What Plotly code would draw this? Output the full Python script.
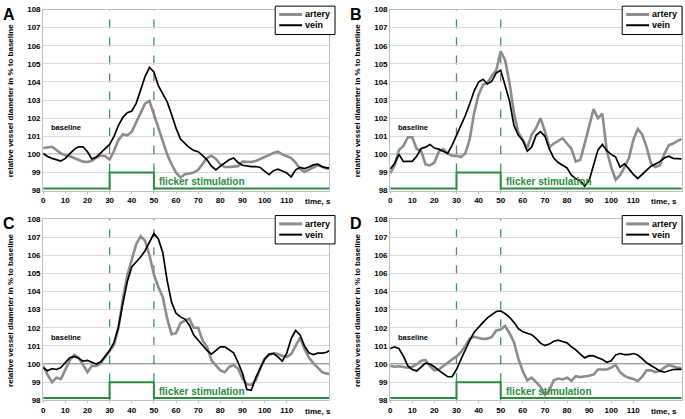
import plotly.graph_objects as go
from plotly.subplots import make_subplots

# sample times (s)
time_ac = list(range(0, 131, 2))
time_bd = list(range(0, 133, 2))

# panel A
artery_a = [100.35, 100.4, 100.42, 100.24, 100.05, 99.95, 99.9, 99.8, 99.7, 99.6,
            99.58, 99.65, 99.82, 99.94, 99.9, 99.72, 100.2, 100.8, 101.1, 101.05,
            101.25, 101.8, 102.35, 102.8, 102.95, 102.2, 101.4, 100.7, 100.0, 99.45,
            99.0, 98.72, 98.9, 98.95, 99.0, 99.15, 99.5, 99.8, 99.93, 99.75,
            99.45, 99.3, 99.3, 99.32, 99.35, 99.6, 99.6, 99.58, 99.64, 99.75,
            99.85, 99.98, 100.08, 100.15, 100.0, 99.9, 99.8, 99.55, 99.2, 99.03,
            99.15, 99.3, 99.4, 99.32, 99.22, 99.2]
vein_a = [100.05, 99.88, 99.78, 99.7, 99.63, 99.78, 100.05, 100.28, 100.42, 100.42,
          100.15, 99.75, 99.85, 100.1, 100.3, 100.55, 101.0, 101.6, 102.05, 102.3,
          102.4, 102.82, 103.55, 104.3, 104.8, 104.55, 103.8, 103.35, 102.9, 102.2,
          101.45, 100.85, 100.62, 100.38, 100.22, 100.15, 99.93, 99.7, 99.35, 99.15,
          99.35, 99.52, 99.7, 99.8, 99.55, 99.4, 99.35, 99.33, 99.33, 99.28,
          99.08, 98.88, 99.1, 99.18, 99.08, 98.98, 98.75, 99.15, 99.28, 99.22,
          99.3, 99.42, 99.46, 99.32, 99.26, 99.25]

# panel B
artery_b = [98.95, 99.4, 100.25, 100.47, 100.95, 100.95, 100.3, 100.2, 99.45, 99.39,
            99.55, 100.15, 100.29, 100.05, 99.93, 99.92, 99.85, 100.05, 100.85, 102.3,
            103.3, 103.85, 103.95, 104.35, 104.65, 105.7, 105.2, 103.95, 102.3, 101.2,
            100.8, 100.35, 101.1, 101.45, 102.0, 101.28, 100.4, 100.6, 100.74, 100.9,
            100.6, 100.3, 99.6, 99.7, 100.6, 101.5, 102.5, 102.0, 102.25, 100.2,
            99.3, 98.6, 98.85, 99.3, 99.8, 100.8, 101.4, 101.1, 100.4, 99.5,
            99.3, 99.4, 100.02, 100.5, 100.6, 100.75, 100.85]
vein_b = [99.2, 99.5, 100.0, 99.6, 99.62, 99.62, 99.9, 100.33, 100.4, 100.55,
          100.35, 100.29, 100.17, 100.05, 100.5, 101.05, 101.55, 102.15, 102.8, 103.5,
          104.0, 104.15, 103.89, 104.05, 104.5, 104.65, 103.8, 102.95, 101.6, 101.05,
          100.77, 100.18, 100.4, 101.05, 101.25, 101.0, 100.3, 99.8, 99.55, 99.42,
          99.25, 98.85, 98.65, 98.55, 98.25, 98.55, 99.4, 100.25, 100.55, 100.2,
          100.0, 99.85, 99.3, 99.48, 99.2, 98.9, 98.67, 98.9, 99.15, 99.35,
          99.47, 99.6, 99.8, 99.9, 99.78, 99.75, 99.75]

# panel C
artery_c = [99.9, 99.4, 99.0, 99.25, 99.17, 99.65, 100.2, 100.5, 100.35, 99.95,
            99.55, 99.9, 99.89, 100.05, 100.4, 100.7, 101.05, 102.0, 103.6, 104.9,
            105.7, 106.6, 107.05, 106.8, 106.0, 104.95, 104.25, 103.7, 102.5, 101.65,
            101.7, 102.25, 102.4, 102.5, 102.0, 102.0, 101.3, 100.95, 100.2, 99.9,
            99.65, 99.55, 99.85, 99.93, 99.75, 99.2, 98.88, 98.85, 99.1, 99.75,
            100.3, 100.5, 100.6, 100.55, 100.45, 100.4, 100.55, 101.0, 101.45, 100.85,
            100.35, 100.05, 99.8, 99.55, 99.47, 99.44]
vein_c = [99.8, 99.63, 99.75, 99.7, 99.8, 100.05, 100.35, 100.42, 100.32, 100.16,
          100.2, 100.1, 100.0, 100.12, 100.45, 100.75, 101.2, 102.05, 103.35, 104.55,
          105.35, 105.6, 105.9, 106.25, 106.7, 107.2, 106.9, 106.15, 104.6, 103.4,
          102.8, 102.6, 102.48, 102.15, 101.6, 101.3, 101.0, 100.75, 100.55, 100.75,
          100.95, 100.95, 100.8, 100.62, 100.1, 99.5, 98.6, 98.55, 99.25, 99.8,
          100.25, 100.55, 100.58, 100.4, 100.16, 100.6, 101.4, 101.85, 101.6, 101.0,
          100.62, 100.52, 100.6, 100.6, 100.65, 100.8]

# panel D
artery_d = [99.9, 99.85, 99.88, 99.82, 99.8, 99.85, 99.98, 100.18, 100.22, 99.89,
            99.65, 99.7, 99.9, 100.08, 100.25, 100.42, 100.65, 101.0, 101.4, 101.5,
            101.45, 101.38, 101.4, 101.5, 101.85, 101.9, 102.1, 101.7, 101.2, 100.3,
            99.6, 99.1, 99.25, 99.0, 98.75, 98.3, 98.55, 99.1, 99.2, 99.15,
            99.25, 99.08, 99.33, 99.28, 99.3, 99.35, 99.42, 99.7, 99.7, 99.7,
            99.8, 99.95, 99.55, 99.35, 99.24, 99.18, 99.05, 99.3, 99.65, 99.65,
            99.55, 99.62, 99.8, 99.95, 99.88, 99.8, 99.78]
vein_d = [100.85, 100.95, 100.85, 100.43, 99.9, 99.7, 99.62, 99.85, 100.05, 100.0,
          99.85, 99.65, 99.45, 99.3, 99.3, 99.7, 100.25, 100.8, 101.3, 101.75,
          102.05, 102.3, 102.55, 102.72, 102.9, 102.93, 102.78, 102.58, 102.3, 101.95,
          101.78, 101.7, 101.62, 101.42, 101.15, 101.02, 101.1, 101.26, 101.32, 101.24,
          101.17, 100.95, 100.78, 100.55, 100.34, 100.46, 100.45, 100.35, 100.25, 100.1,
          100.18, 100.5, 100.58, 100.52, 100.52, 100.58, 100.5, 100.3, 100.07, 99.92,
          99.75, 99.62, 99.55, 99.62, 99.7, 99.71, 99.71]

y_ticks = list(range(98, 109))
y_text = [str(v) for v in y_ticks]
y_text_d = ["98", "99", "100", "101", "102", "103", "104", "106", "106", "107", "108"]  # as printed
x_ticks = list(range(0, 111, 10))

stim_x = [0, 30, 30, 50, 50, 140]
stim_y = [98.12, 98.12, 99, 99, 98.12, 98.12]

FONT = "Liberation Sans, Arial, sans-serif"
GREEN = "#2b8c3f"
DASH_GREEN = "#3a9a55"
GREY = "#8c8c8c"

panels = [
    # label, row, col, time, artery, vein, ytext, xmax, plot box in px (x0, x1), (y0, y1)
    ("A", 1, 1, time_ac, artery_a, vein_a, y_text, 129.1, [41.3, 328], [5.7, 190.7]),
    ("B", 1, 2, time_bd, artery_b, vein_b, y_text, 131.8, [389.3, 681.5], [5.7, 190.7]),
    ("C", 2, 1, time_ac, artery_c, vein_c, y_text, 129.1, [41.3, 328], [219.7, 405]),
    ("D", 2, 2, time_bd, artery_d, vein_d, y_text_d, 131.8, [389.3, 681.5], [219.7, 405]),
]

W, H = 685, 419
px = lambda v: v / W
py = lambda v: 1 - v / H

fig = make_subplots(rows=2, cols=2)

for i, (lab, r, c, t, art, vein, ytext, xmax, xd, yd) in enumerate(panels):
    xa = "x" if i == 0 else f"x{i + 1}"
    ya = "y" if i == 0 else f"y{i + 1}"

    # stimulation window markers under the curves
    for xv in (30, 50):
        fig.add_shape(type="line", xref=xa, yref=f"{ya} domain", x0=xv, x1=xv, y0=0, y1=1,
                      line=dict(color=DASH_GREEN, width=1.3, dash="dash"), layer="below")
    fig.add_shape(type="line", xref=f"{xa} domain", yref=ya, x0=0, x1=1, y0=100, y1=100,
                  line=dict(color="#2f4a32", width=1.3), layer="below")

    fig.add_trace(go.Scatter(x=stim_x, y=stim_y, mode="lines", showlegend=False,
                             line=dict(color=GREEN, width=2), hoverinfo="skip"), row=r, col=c)
    fig.add_trace(go.Scatter(x=t, y=art, mode="lines", name="artery", showlegend=False,
                             line=dict(color=GREY, width=2.6)), row=r, col=c)
    fig.add_trace(go.Scatter(x=t, y=vein, mode="lines", name="vein", showlegend=False,
                             line=dict(color="black", width=1.7)), row=r, col=c)

    fig.update_xaxes(range=[0, xmax], domain=[px(xd[0]), px(xd[1])], tickvals=x_ticks,
                     showgrid=False, zeroline=False, showline=True, mirror=True,
                     linecolor="#bfbfbf", ticks="outside", ticklen=2, tickcolor="#bfbfbf",
                     tickfont=dict(family=FONT, size=8, color="black", weight="bold"),
                     row=r, col=c)
    fig.update_yaxes(range=[98, 108], domain=[py(yd[1]), py(yd[0])],
                     tickvals=y_ticks, ticktext=ytext, showgrid=True, gridcolor="#d9d9d9",
                     zeroline=False, showline=True, mirror=True, linecolor="#bfbfbf",
                     ticks="", tickfont=dict(family=FONT, size=8, color="black", weight="bold"),
                     row=r, col=c)

    # panel letter
    fig.add_annotation(x=px(xd[0] - 34), y=py(yd[0] + 5), xref="paper", yref="paper",
                       text=lab, showarrow=False, xanchor="center", yanchor="middle",
                       font=dict(family=FONT, size=16, color="black", weight="bold"))
    # y axis title
    fig.add_annotation(x=px(xd[0] - 33), y=py((yd[0] + yd[1]) / 2), xref="paper",
                       yref="paper", text="relative vessel diameter in % to baseline",
                       textangle=-90, showarrow=False, xanchor="center", yanchor="middle",
                       font=dict(family=FONT, size=8, color="black", weight="bold"))
    fig.add_annotation(x=2.5, y=101.47, xref=xa, yref=ya, text="baseline", showarrow=False,
                       xanchor="left", yanchor="middle",
                       font=dict(family=FONT, size=7.5, color="black", weight="bold"))
    fig.add_annotation(x=51.5, y=98.5, xref=xa, yref=ya, text="flicker stimulation",
                       showarrow=False, xanchor="left", yanchor="middle",
                       font=dict(family=FONT, size=10, color=GREEN, weight="bold"))
    fig.add_annotation(x=124, y=-0.06, xref=xa, yref=f"{ya} domain", text="time, s",
                       showarrow=False, xanchor="center", yanchor="middle",
                       font=dict(family=FONT, size=8, color="black", weight="bold"))

    # legend box (drawn by hand to match the small boxed key)
    lx1 = xd[1] + (6 if c == 1 else 0.5)
    lx0 = lx1 - 60
    ly0 = yd[0] - 3.5
    ly1 = ly0 + 29
    fig.add_shape(type="rect", xref="paper", yref="paper", x0=px(lx0), x1=px(lx1),
                  y0=py(ly0), y1=py(ly1), fillcolor="white", line=dict(color="black", width=1))
    for k, (name, col, wid) in enumerate([("artery", GREY, 3), ("vein", "black", 2)]):
        yy = ly0 + 8.5 + k * 11
        fig.add_shape(type="line", xref="paper", yref="paper", x0=px(lx0 + 4), x1=px(lx0 + 27),
                      y0=py(yy), y1=py(yy), line=dict(color=col, width=wid))
        fig.add_annotation(x=px(lx0 + 28), y=py(yy), xref="paper", yref="paper", text=name,
                           showarrow=False, xanchor="left", yanchor="middle",
                           font=dict(family=FONT, size=9, color="black", weight="bold"))

fig.update_layout(width=W, height=H, margin=dict(l=0, r=0, t=0, b=0), showlegend=False,
                  plot_bgcolor="white", paper_bgcolor="white",
                  font=dict(family=FONT, color="black"))

# the page's default body margin would push the fixed-size figure off the window
fig.write_html("out.html", config={"displayModeBar": False},
               post_script="document.body.style.margin='0px';")
